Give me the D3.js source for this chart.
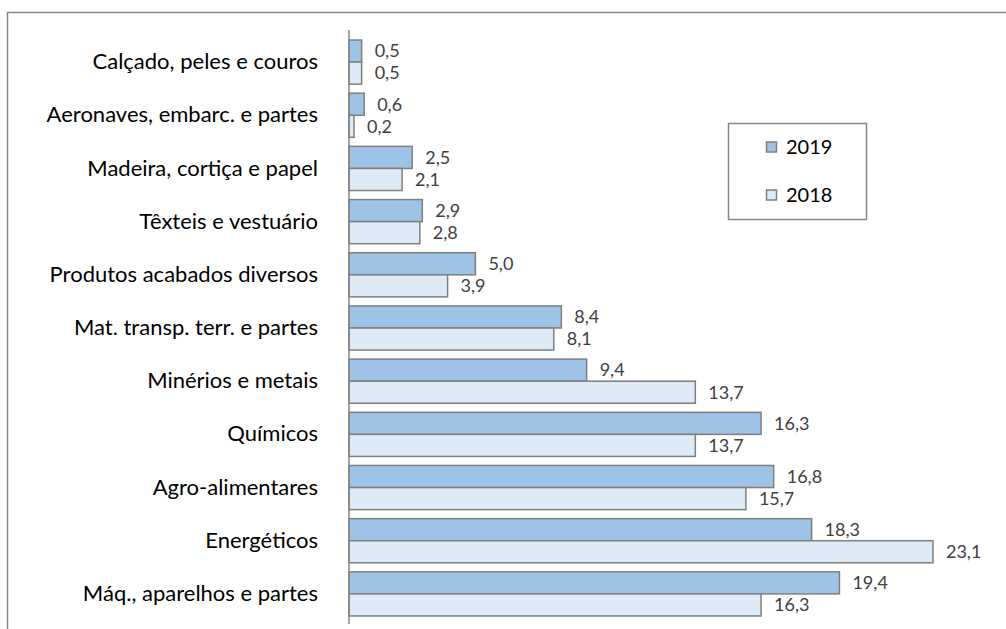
<!DOCTYPE html>
<html>
<head>
<meta charset="utf-8">
<script src="https://d3js.org/d3.v7.min.js"></script>
<style>
  body { margin: 0; background: #fff; }
  svg text { font-family: Lato, "Open Sans", sans-serif; }
</style>
</head>
<body>
<svg id="chart" width="1006" height="629"></svg>
<script>
// categories, top to bottom
const categories = ["Calçado, peles e couros", "Aeronaves, embarc. e partes", "Madeira, cortiça e papel",
  "Têxteis e vestuário", "Produtos acabados diversos", "Mat. transp. terr. e partes",
  "Minérios e metais", "Químicos", "Agro-alimentares", "Energéticos", "Máq., aparelhos e partes"];
const seriesNames = ["2019", "2018"];
const values2019 = [0.5, 0.6, 2.5, 2.9, 5.0, 8.4, 9.4, 16.3, 16.8, 18.3, 19.4];
const values2018 = [0.5, 0.2, 2.1, 2.8, 3.9, 8.1, 13.7, 13.7, 15.7, 23.1, 16.3];
const colors = ["#9dc3e6", "#deebf7"];

const svg = d3.select("#chart");

// outer frame (runs off the right/bottom of the picture)
svg.append("rect")
  .attr("x", 7.5).attr("y", 12.5)
  .attr("width", 1010).attr("height", 630)
  .attr("fill", "none").attr("stroke", "#868686").attr("stroke-width", 1.5);

const x = d3.scaleLinear().domain([0, 25]).range([349, 981]);
const y = d3.scaleBand().domain(categories).range([35.5, 620.5]).paddingInner(0.17).paddingOuter(0.085);
const ys = d3.scaleBand().domain(seriesNames).range([0, y.bandwidth()]);

const rows = categories.map((c, i) => ({ cat: c, vals: [values2019[i], values2018[i]] }));

const g = svg.selectAll("g.cat").data(rows).enter().append("g")
  .attr("class", "cat")
  .attr("transform", d => `translate(0,${y(d.cat)})`);

g.selectAll("rect").data(d => d.vals.map((v, k) => ({ v, s: seriesNames[k], k })))
  .enter().append("rect")
  .attr("x", x(0))
  .attr("y", d => ys(d.s))
  .attr("width", d => x(d.v) - x(0))
  .attr("height", ys.bandwidth())
  .attr("fill", d => colors[d.k])
  .attr("stroke", "#7f7f7f").attr("stroke-width", 1.5);

g.selectAll("text.val").data(d => d.vals.map((v, k) => ({ v, s: seriesNames[k] })))
  .enter().append("text")
  .attr("class", "val")
  .attr("x", d => x(d.v) + 13)
  .attr("y", d => ys(d.s) + ys.bandwidth() / 2)
  .attr("dy", "0.35em")
  .attr("fill", "#404040")
  .style("font-size", "18px")
  .text(d => d3.format(".1f")(d.v).replace(".", ","));

// category axis
const axis = svg.append("g").attr("transform", `translate(${x(0)},0)`)
  .call(d3.axisLeft(y).tickSize(0).tickPadding(31));
axis.select(".domain").attr("stroke", "#868686").attr("stroke-width", 1.5)
  .attr("d", `M0,30V624`);
axis.selectAll("text").style("font-size", "22px").attr("fill", "#000");

// legend
const lg = svg.append("g");
lg.append("rect").attr("x", 728.5).attr("y", 123.5).attr("width", 138).attr("height", 96)
  .attr("fill", "#fff").attr("stroke", "#868686").attr("stroke-width", 1.5);
const ly = d3.scalePoint().domain(seriesNames).range([147, 195]);
seriesNames.forEach((s, k) => {
  lg.append("rect").attr("x", 766.5).attr("y", ly(s) - 5).attr("width", 10).attr("height", 10)
    .attr("fill", colors[k]).attr("stroke", "#7f7f7f").attr("stroke-width", 1.5);
  lg.append("text").attr("x", 786).attr("y", ly(s)).attr("dy", "0.35em")
    .style("font-size", "20px").attr("fill", "#000").text(s);
});
</script>
</body>
</html>
